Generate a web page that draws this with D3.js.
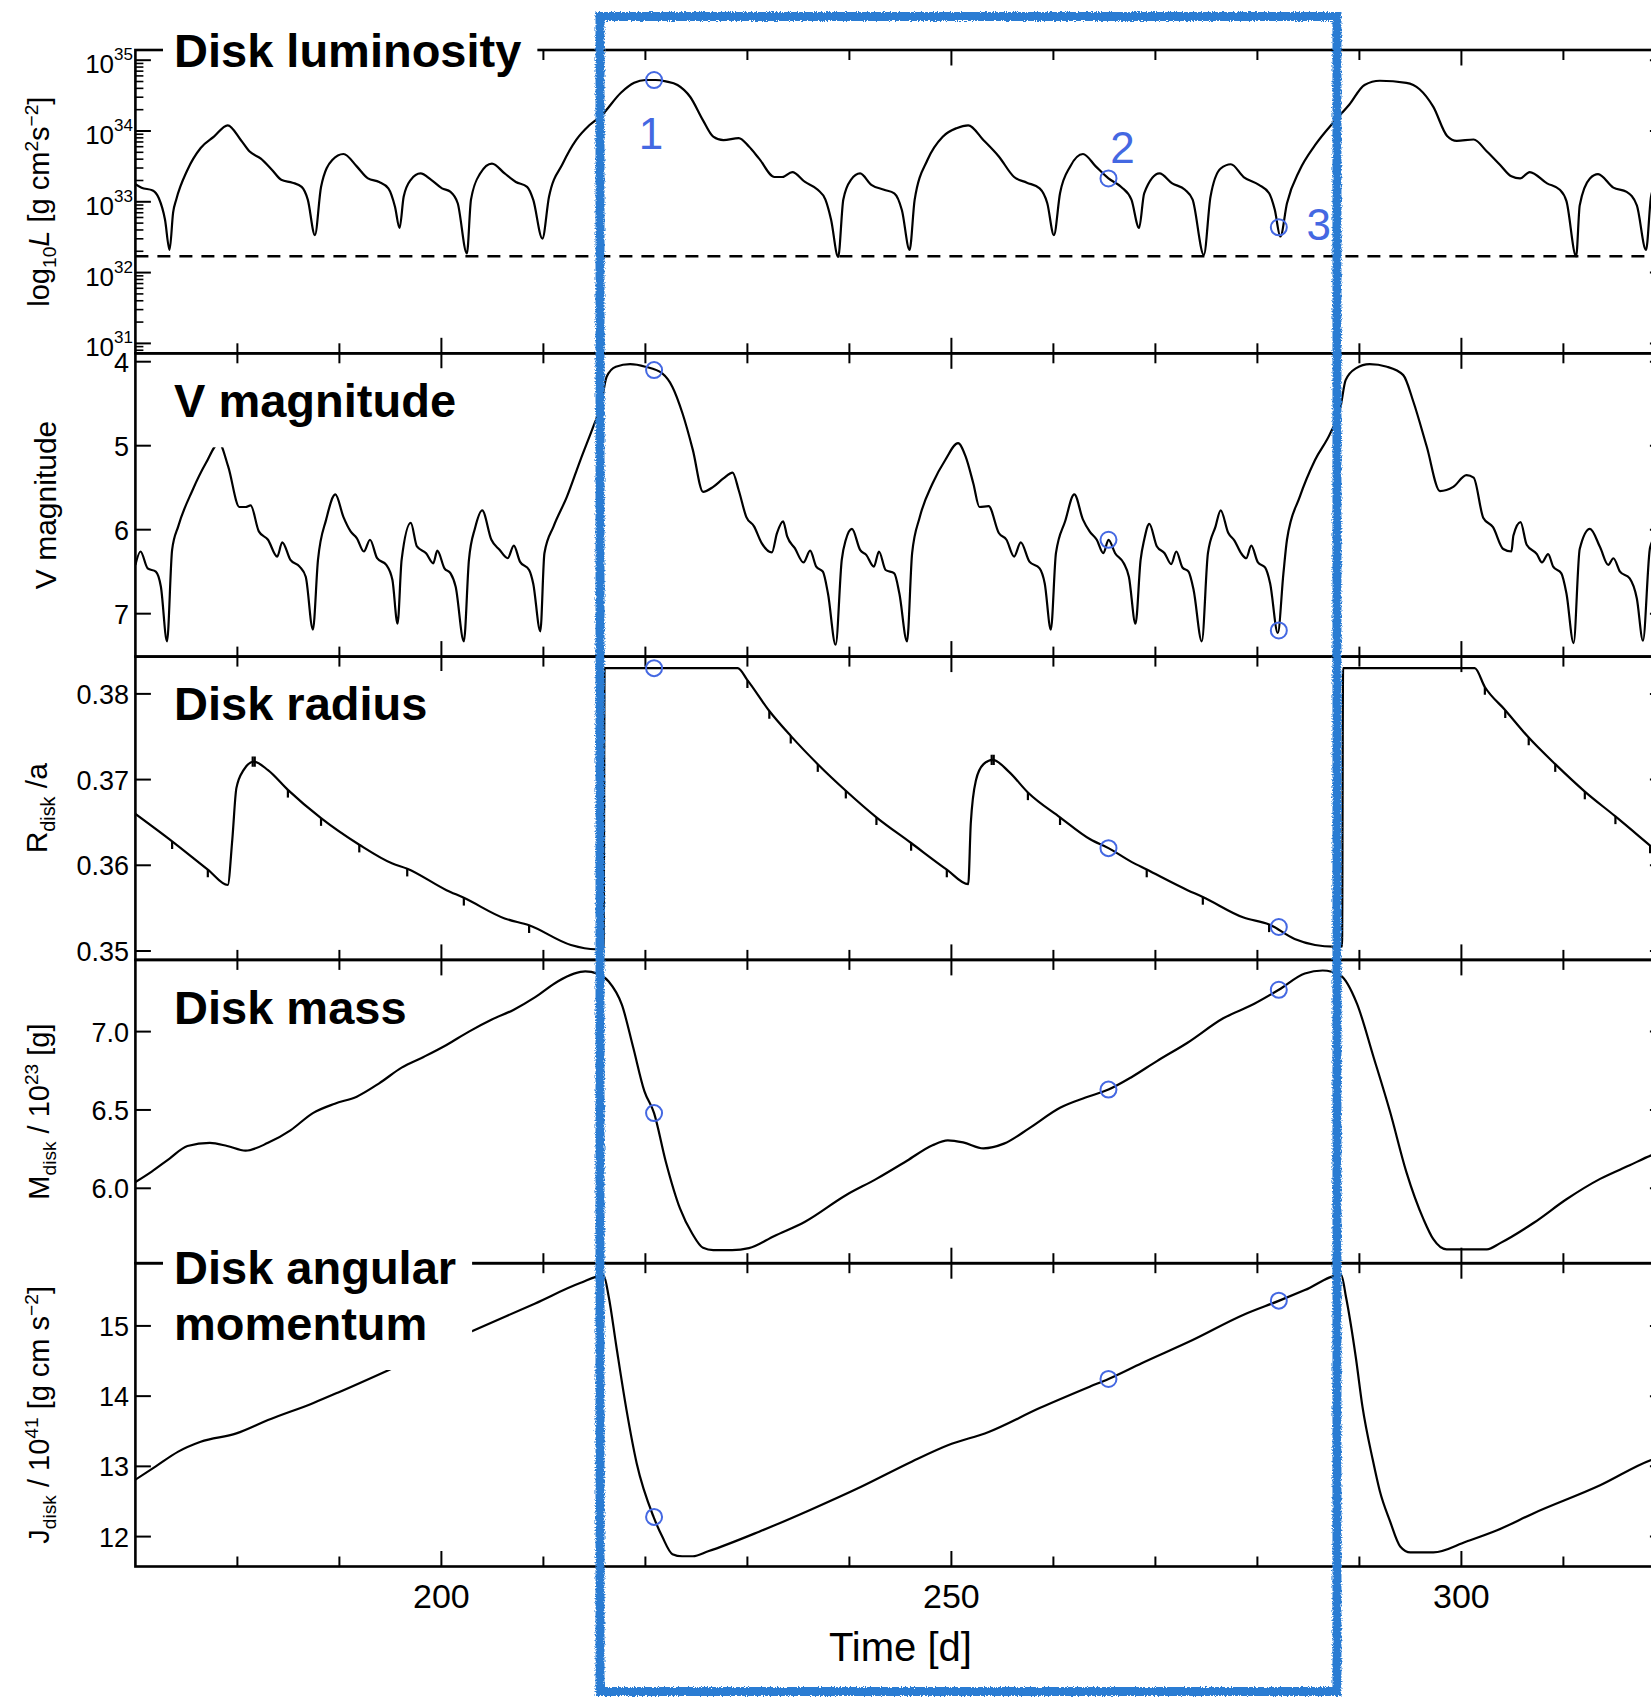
<!DOCTYPE html>
<html>
<head>
<meta charset="utf-8">
<script src="https://cdn.jsdelivr.net/npm/d3@7"></script>
<style>
  html, body { margin: 0; padding: 0; background: #fff; overflow: hidden; }
  svg { display: block; }
  text { font-family: "Liberation Sans", Arial, Helvetica, sans-serif; }
</style>
</head>
<body>
<svg id="chart" width="1651" height="1699"></svg>
<script>
// ---------------- data: [time (d), value] ----------------
// disk luminosity, log10 L [g cm^2 s^-2]
const luminosity = [
  [170.0,33.25],[170.6,33.20],[171.7,33.16],[172.3,33.05],[172.9,32.75],[173.35,32.32],[173.7,32.85],[174.0,33.03],
  [175.1,33.45],[176.4,33.76],[177.7,33.92],[179.05,34.08],[180.35,33.87],[181.2,33.71],[182.3,33.61],[183.4,33.45],
  [184.3,33.31],[185.4,33.27],[186.3,33.21],[186.9,33.03],[187.6,32.53],[188.2,33.21],[189.3,33.59],[190.4,33.675],
  [191.7,33.50],[192.8,33.33],[193.9,33.28],[194.8,33.19],[195.45,32.93],[195.9,32.63],[196.3,33.07],[197.0,33.31],
  [197.95,33.40],[199.0,33.31],[200.06,33.19],[200.9,33.14],[201.6,32.98],[202.5,32.27],[202.9,33.03],[203.8,33.40],
  [204.96,33.54],[206.2,33.40],[207.3,33.28],[208.4,33.21],[209.0,33.03],[209.9,32.48],[210.55,33.07],[211.9,33.54],
  [213.2,33.87],[214.5,34.08],[215.7,34.22],[217.6,34.54],[218.9,34.68],[220.0,34.72],[221.0,34.72],[222.0,34.70],
  [223.15,34.65],[224.4,34.48],[225.65,34.15],[226.65,33.92],[227.65,33.87],[229.15,33.90],[230.15,33.78],[231.15,33.61],
  [232.65,33.35],[233.4,33.35],[234.4,33.42],[235.65,33.28],[236.9,33.17],[237.65,33.03],[238.2,32.75],[238.9,32.22],
  [239.4,33.03],[240.15,33.31],[241.05,33.40],[242.15,33.24],[243.4,33.17],[244.4,33.12],[245.15,32.88],[245.9,32.32],
  [246.4,33.03],[247.65,33.59],[249.15,33.92],[250.5,34.04],[251.65,34.08],[253.15,33.87],[254.65,33.64],[256.15,33.35],
  [257.4,33.27],[258.65,33.19],[259.4,32.98],[260.05,32.53],[260.65,33.12],[261.65,33.50],[262.9,33.675],[264.15,33.50],
  [265.4,33.33],[266.65,33.21],[267.65,33.03],[268.4,32.63],[268.9,33.12],[270.4,33.40],[271.65,33.26],[272.9,33.17],
  [273.65,33.03],[274.75,32.25],[275.4,33.07],[276.4,33.47],[277.4,33.53],[278.65,33.35],[280.15,33.24],[281.15,33.12],
  [281.7,32.89],[282.25,32.51],[282.9,32.98],[284.15,33.45],[285.65,33.80],[287.5,34.13],[289.0,34.37],[290.5,34.65],
  [292.0,34.71],[294.6,34.68],[295.9,34.59],[297.25,34.34],[298.6,33.93],[299.55,33.86],[301.2,33.88],[302.5,33.71],
  [303.8,33.52],[304.9,33.36],[305.75,33.33],[306.7,33.42],[308.4,33.26],[309.65,33.17],[310.3,33.01],[311.25,32.23],
  [311.6,32.95],[312.6,33.33],[313.4,33.39],[314.9,33.20],[316.2,33.14],[317.2,32.95],[318.1,32.32],[318.6,33.08],[319.2,33.30]
];
// quiescent luminosity level (log10 L)
const lumFloor = 32.23;

// V magnitude
const vMag = [
  [170.0,6.42],[170.5,6.26],[171.2,6.46],[172.0,6.50],[172.5,6.68],[173.1,7.33],[173.6,6.24],[174.2,5.96],[175.6,5.53],
  [176.9,5.21],[178.2,4.97],[179.1,5.25],[180.2,5.73],[180.8,5.73],[181.3,5.71],[182.1,6.02],[183.0,6.12],[183.9,6.32],
  [184.4,6.15],[185.2,6.36],[186.1,6.44],[186.7,6.56],[187.4,7.19],[187.9,6.36],[188.7,5.88],[189.6,5.58],[190.4,5.85],
  [191.1,6.02],[191.7,6.10],[192.4,6.26],[193.0,6.12],[193.7,6.34],[194.6,6.42],[195.2,6.60],[195.7,7.12],[196.1,6.36],
  [197.0,5.92],[197.6,6.20],[198.5,6.28],[199.2,6.40],[199.6,6.25],[200.3,6.46],[200.9,6.52],[201.4,6.68],[202.2,7.33],
  [202.7,6.36],[203.3,5.98],[204.0,5.77],[204.9,6.12],[205.7,6.24],[206.5,6.34],[207.1,6.19],[207.7,6.38],[208.6,6.48],
  [209.0,6.64],[209.7,7.21],[210.1,6.28],[211.0,5.96],[212.3,5.61],[213.6,5.18],[214.9,4.77],[215.6,4.54],[216.2,4.18],
  [217.1,4.06],[218.5,4.03],[220.0,4.06],[221.65,4.14],[222.65,4.30],[223.65,4.62],[224.65,5.05],[225.65,5.55],
  [226.65,5.49],[227.65,5.39],[228.55,5.32],[229.15,5.53],[229.9,5.85],[230.65,5.96],[231.4,6.16],[232.4,6.27],
  [232.9,6.04],[233.5,5.90],[233.9,6.08],[234.65,6.22],[235.5,6.39],[236.15,6.25],[236.75,6.44],[237.4,6.50],
  [237.9,6.76],[238.65,7.37],[239.25,6.36],[239.65,6.12],[240.25,5.99],[241.05,6.24],[241.65,6.30],[242.4,6.44],
  [242.9,6.26],[243.55,6.48],[244.4,6.52],[244.9,6.76],[245.65,7.33],[246.15,6.28],[246.9,5.85],[248.15,5.45],
  [249.4,5.17],[250.65,4.97],[251.4,5.13],[252.15,5.45],[252.75,5.73],[253.65,5.72],[254.65,6.04],[255.4,6.12],
  [256.15,6.32],[256.8,6.15],[257.65,6.38],[258.65,6.46],[259.15,6.64],[259.75,7.19],[260.25,6.28],[261.15,5.90],
  [262.05,5.58],[262.9,5.88],[263.55,6.02],[264.25,6.12],[264.9,6.28],[265.4,6.12],[266.05,6.28],[266.9,6.40],
  [267.4,6.56],[268.05,7.12],[268.55,6.36],[268.9,6.12],[269.4,5.93],[270.15,6.20],[270.9,6.28],[271.55,6.41],
  [272.05,6.26],[272.65,6.45],[273.25,6.50],[273.75,6.72],[274.55,7.33],[275.15,6.28],[275.9,5.96],[276.4,5.77],
  [277.15,6.04],[277.75,6.13],[278.4,6.28],[278.9,6.34],[279.4,6.19],[280.05,6.39],[280.75,6.45],[281.25,6.64],
  [282.0,7.23],[282.55,6.52],[282.9,6.12],[284.15,5.61],[285.65,5.17],[287.15,4.85],[288.15,4.54],[288.65,4.22],
  [289.65,4.08],[291.0,4.03],[292.7,4.06],[294.3,4.16],[295.3,4.48],[296.6,5.01],[297.9,5.54],[299.2,5.49],
  [300.5,5.35],[301.2,5.38],[302.15,5.86],[303.1,5.97],[304.1,6.23],[304.9,6.26],[305.1,6.07],[305.8,5.91],
  [306.4,6.18],[307.4,6.29],[307.9,6.39],[308.5,6.29],[309.0,6.44],[309.8,6.52],[310.3,6.76],[311.0,7.35],
  [311.6,6.23],[312.6,5.99],[313.6,6.21],[314.4,6.42],[314.9,6.34],[315.55,6.50],[316.5,6.58],[317.2,6.82],
  [317.8,7.32],[318.5,6.21],[319.2,6.05]
];

// disk radius R_disk / a
const diskRadius = [
  [170.0,0.3660],[173.6,0.3628],[177.1,0.3595],[179.05,0.3577],[179.5,0.3630],[179.9,0.3690],[180.6,0.3711],
  [181.6,0.3721],[183.0,0.3711],[184.95,0.3688],[188.2,0.3655],[191.95,0.3624],[195.2,0.3602],[196.65,0.3596],
  [200.5,0.3571],[202.2,0.3562],[206.2,0.3538],[208.6,0.3530],[212.7,0.3507],[215.1,0.3502],[215.9,0.3502],
  [216.0,0.3830],[229.05,0.3830],[230.0,0.3816],[232.15,0.3780],[234.25,0.3751],[236.9,0.3718],[239.65,0.3687],
  [242.65,0.3656],[246.05,0.3626],[249.55,0.3595],[251.65,0.3578],[251.9,0.3649],[252.4,0.3699],[253.15,0.3718],
  [254.05,0.3723],[255.65,0.3709],[257.5,0.3685],[260.65,0.3656],[263.65,0.3630],[265.4,0.3620],[267.65,0.3604],
  [269.15,0.3595],[273.15,0.3571],[274.65,0.3563],[278.65,0.3539],[281.15,0.3531],[283.65,0.3514],[285.65,0.3507],
  [287.5,0.3505],[288.3,0.3505],[288.4,0.3830],[301.3,0.3830],[302.3,0.3808],[304.3,0.3781],[306.6,0.3749],
  [309.2,0.3718],[312.1,0.3686],[315.1,0.3657],[318.5,0.3623],[319.2,0.3616]
];
// short glitches in the radius output: [time, from, to]
const radiusGlitches = [
  [173.6,0.3628,0.3619],[177.1,0.3595,0.3586],[181.5,0.3715,0.3727],[181.7,0.3715,0.3727],[184.95,0.3688,0.3679],
  [188.2,0.3655,0.3646],[191.95,0.3624,0.3615],[196.65,0.3596,0.3587],[202.2,0.3562,0.3553],[208.6,0.3530,0.3521],
  [230.0,0.3816,0.3807],[232.15,0.3780,0.3771],[234.25,0.3751,0.3742],[236.9,0.3718,0.3709],[239.65,0.3687,0.3678],
  [242.65,0.3656,0.3647],[246.05,0.3626,0.3617],[249.55,0.3595,0.3586],[253.95,0.3717,0.3729],[254.15,0.3717,0.3729],
  [257.5,0.3685,0.3676],[260.65,0.3656,0.3647],[269.15,0.3595,0.3586],[274.65,0.3563,0.3554],[281.15,0.3531,0.3522],
  [302.3,0.3808,0.3799],[304.3,0.3781,0.3772],[306.6,0.3749,0.3740],[309.2,0.3718,0.3709],[312.1,0.3686,0.3677],
  [315.1,0.3657,0.3648],[318.5,0.3623,0.3614]
];

// disk mass / 1e23 g
const diskMass = [
  [170.0,6.04],[171.6,6.107],[173.35,6.19],[175.1,6.27],[177.3,6.29],[179.0,6.27],[180.8,6.24],[183.0,6.29],
  [185.2,6.37],[187.4,6.48],[189.55,6.54],[191.7,6.585],[193.9,6.67],[196.1,6.77],[198.3,6.84],[200.5,6.915],
  [202.7,7.0],[204.9,7.075],[207.1,7.14],[209.2,7.22],[211.4,7.32],[213.0,7.37],[214.1,7.385],[215.3,7.37],
  [216.4,7.32],[217.7,7.17],[218.8,6.90],[219.9,6.62],[220.85,6.48],[222.0,6.17],[223.4,5.87],[224.6,5.71],
  [225.65,5.62],[226.65,5.605],[228.5,5.605],[230.15,5.618],[232.65,5.696],[235.65,5.787],[239.65,5.956],
  [242.65,6.06],[245.65,6.176],[248.15,6.275],[249.65,6.306],[251.15,6.293],[253.15,6.255],[255.15,6.285],
  [257.65,6.384],[260.65,6.514],[263.15,6.579],[265.4,6.63],[267.65,6.709],[270.15,6.812],[273.15,6.929],
  [276.65,7.085],[279.65,7.176],[282.1,7.267],[284.65,7.371],[286.4,7.39],[288.15,7.358],[289.75,7.18],
  [291.4,6.835],[293.0,6.49],[294.6,6.105],[296.3,5.80],[297.25,5.675],[298.55,5.61],[300.5,5.61],[302.5,5.61],
  [303.8,5.65],[307.1,5.78],[310.3,5.93],[313.6,6.06],[316.5,6.147],[318.6,6.21],[319.2,6.225]
];

// disk angular momentum / 1e41
const diskAngMom = [
  [170.0,12.81],[172.0,13.0],[174.2,13.21],[176.4,13.35],[179.9,13.47],[183.0,13.66],[187.4,13.90],[190.0,14.06],
  [194.8,14.37],[203.1,14.93],[209.2,15.32],[213.6,15.61],[215.9,15.72],[216.4,15.42],[217.15,14.71],[218.15,13.80],
  [219.15,13.04],[220.8,12.28],[221.65,12.0],[222.65,11.75],[223.6,11.72],[224.65,11.72],[226.15,11.79],[231.15,12.07],
  [236.15,12.38],[241.15,12.71],[246.15,13.07],[249.65,13.30],[253.65,13.49],[258.65,13.83],[263.65,14.14],
  [265.4,14.245],[268.65,14.47],[273.65,14.80],[278.65,15.16],[282.15,15.36],[284.65,15.51],[288.2,15.73],
  [288.7,15.40],[289.65,14.55],[290.3,13.85],[291.3,13.10],[292.0,12.65],[293.0,12.22],[294.0,11.86],[295.0,11.775],
  [297.25,11.775],[300.5,11.93],[303.5,12.09],[307.05,12.33],[313.6,12.73],[318.6,13.09],[319.2,13.12]
];

// highlighted epochs 1, 2, 3
const markerNames = ["1", "2", "3"];
const markerTimes = [220.85, 265.4, 282.1];
const markerLum   = [34.72, 33.33, 32.64];
const markerV     = [4.10, 6.12, 7.20];
const markerR     = [0.3830, 0.3620, 0.3528];
const markerM     = [6.48, 6.63, 7.267];
const markerJ     = [12.28, 14.245, 15.36];
// outburst cycle enclosed by the frame [start, end] in days
const cycleSpan = [215.55, 287.8];

// axis ticks
const timeTicks  = [180, 190, 200, 210, 220, 230, 240, 250, 260, 270, 280, 290, 300, 310];
const timeLabels = [200, 250, 300];
const lumTicks   = [31, 32, 33, 34, 35];
const vTicks     = [4, 5, 6, 7];
const rTicks     = [0.35, 0.36, 0.37, 0.38];
const mTicks     = [6.0, 6.5, 7.0];
const jTicks     = [12, 13, 14, 15];

// ---------------- layout ----------------
const plotLeft = 135.4, plotRight = 1665.4, plotTop = 50, panelH = 303.3;
const majorLen = 15.5, minorLen = 10, logMinorLen = 8;
const ink = "#000";
const markColor = "#4468e2";
const frameColor = "#2b7cd3";

const svg = d3.select("#chart");
const defs = svg.append("defs");

// ragged edge for the hand-drawn highlight frame
const rough = defs.append("filter").attr("id", "rough")
  .attr("x", "-3%").attr("y", "-3%").attr("width", "106%").attr("height", "106%");
rough.append("feTurbulence").attr("type", "fractalNoise").attr("baseFrequency", 0.7)
  .attr("numOctaves", 2).attr("seed", 5).attr("result", "noise");
rough.append("feDisplacementMap").attr("in", "SourceGraphic").attr("in2", "noise")
  .attr("scale", 4.5).attr("xChannelSelector", "R").attr("yChannelSelector", "G");

const x = d3.scaleLinear().domain([170, 320]).range([plotLeft, plotRight]);

const panels = [
  { data: luminosity, y: d3.scaleLog().domain([Math.pow(10, 30.86), Math.pow(10, 35.144)]),
    val: v => Math.pow(10, v), ticks: lumTicks.map(e => Math.pow(10, e)), log: true,
    markers: markerLum, title: ["Disk luminosity"], titleBase: 66.7 },
  { data: vMag, y: d3.scaleLinear().domain([3.9, 7.511]), invert: true,
    val: v => v, ticks: vTicks, fmt: d => String(d),
    markers: markerV, title: ["V magnitude"], titleBase: 417.3 },
  { data: diskRadius, y: d3.scaleLinear().domain([0.34896, 0.38435]),
    val: v => v, ticks: rTicks, fmt: d3.format(".2f"), glitches: radiusGlitches,
    markers: markerR, title: ["Disk radius"], titleBase: 720 },
  { data: diskMass, y: d3.scaleLinear().domain([5.522, 7.4576]),
    val: v => v, ticks: mTicks, fmt: d3.format(".1f"),
    markers: markerM, title: ["Disk mass"], titleBase: 1024 },
  { data: diskAngMom, y: d3.scaleLinear().domain([11.574, 15.893]),
    val: v => v, ticks: jTicks, fmt: d => String(d),
    markers: markerJ, title: ["Disk angular", "momentum"], titleBase: 1283.5 }
];

const axisLayer = svg.append("g");
const curveLayer = svg.append("g");
const titleLayer = svg.append("g");
const markLayer = svg.append("g");

panels.forEach((p, i) => {
  const top = plotTop + i * panelH, bottom = top + panelH;
  p.top = top; p.bottom = bottom;
  p.y.range(p.invert ? [top, bottom] : [bottom, top]);

  defs.append("clipPath").attr("id", "clip" + i).append("rect")
    .attr("x", plotLeft).attr("y", top).attr("width", plotRight - plotLeft).attr("height", panelH);

  const g = axisLayer.append("g");
  g.append("rect").attr("x", plotLeft).attr("y", top)
    .attr("width", plotRight - plotLeft).attr("height", panelH)
    .attr("fill", "none").attr("stroke", ink).attr("stroke-width", 2.6);

  // time ticks, inward on top and bottom edges
  timeTicks.forEach(t => {
    const len = t % 50 === 0 ? majorLen : minorLen;
    g.append("line").attr("x1", x(t)).attr("x2", x(t)).attr("y1", top).attr("y2", top + len)
      .attr("stroke", ink).attr("stroke-width", 2);
    g.append("line").attr("x1", x(t)).attr("x2", x(t)).attr("y1", bottom - len).attr("y2", bottom)
      .attr("stroke", ink).attr("stroke-width", 2);
  });

  // value ticks, inward on left and right edges
  p.ticks.forEach(v => {
    const yy = p.y(v);
    g.append("line").attr("x1", plotLeft).attr("x2", plotLeft + majorLen).attr("y1", yy).attr("y2", yy)
      .attr("stroke", ink).attr("stroke-width", 2);
    g.append("line").attr("x1", plotRight - majorLen).attr("x2", plotRight).attr("y1", yy).attr("y2", yy)
      .attr("stroke", ink).attr("stroke-width", 2);
  });

  if (p.log) {
    const [lo, hi] = p.y.domain();
    for (let e = 30; e <= 35; e++) {
      for (let k = 2; k <= 9; k++) {
        const v = k * Math.pow(10, e);
        if (v < lo || v > hi) continue;
        const yy = p.y(v);
        g.append("line").attr("x1", plotLeft).attr("x2", plotLeft + logMinorLen).attr("y1", yy).attr("y2", yy)
          .attr("stroke", ink).attr("stroke-width", 1.6);
        g.append("line").attr("x1", plotRight - logMinorLen).attr("x2", plotRight).attr("y1", yy).attr("y2", yy)
          .attr("stroke", ink).attr("stroke-width", 1.6);
      }
    }
    // tick labels 10^n
    lumTicks.forEach(e => {
      const yy = p.y(Math.pow(10, e));
      const t = g.append("text").attr("x", 133).attr("y", yy + 13)
        .attr("text-anchor", "end").attr("font-size", 26).attr("fill", ink);
      t.append("tspan").text("10");
      t.append("tspan").attr("font-size", 17).attr("dy", -13).text(String(e));
    });
  } else {
    p.ticks.forEach(v => {
      g.append("text").attr("x", 129).attr("y", p.y(v) + 10)
        .attr("text-anchor", "end").attr("font-size", 27).attr("fill", ink).text(p.fmt(v));
    });
  }

  // curve
  curveLayer.append("path").datum(p.data)
    .attr("clip-path", `url(#clip${i})`)
    .attr("fill", "none").attr("stroke", ink).attr("stroke-width", 2.2)
    .attr("stroke-linejoin", "round")
    .attr("d", d3.line().x(d => x(d[0])).y(d => p.y(p.val(d[1]))).curve(d3.curveMonotoneX));

  if (p.glitches) {
    curveLayer.append("g").attr("clip-path", `url(#clip${i})`)
      .selectAll("line").data(p.glitches).join("line")
      .attr("x1", d => x(d[0])).attr("x2", d => x(d[0]))
      .attr("y1", d => p.y(d[1])).attr("y2", d => p.y(d[2]))
      .attr("stroke", ink).attr("stroke-width", 2.2);
  }
});

// quiescent level in the luminosity panel
curveLayer.append("line")
  .attr("x1", plotLeft).attr("x2", plotRight)
  .attr("y1", panels[0].y(Math.pow(10, lumFloor))).attr("y2", panels[0].y(Math.pow(10, lumFloor)))
  .attr("stroke", ink).attr("stroke-width", 2.6).attr("stroke-dasharray", "13,9")
  .attr("clip-path", "url(#clip0)");

// panel titles on white boxes
panels.forEach(p => {
  const t = titleLayer.append("text").attr("font-size", 47).attr("font-weight", "bold").attr("fill", ink);
  p.title.forEach((line, k) => {
    t.append("tspan").attr("x", 174).attr("y", p.titleBase + k * 56.5).text(line);
  });
  const bb = t.node().getBBox();
  titleLayer.insert("rect", () => t.node())
    .attr("x", bb.x - 11).attr("y", bb.y - 6)
    .attr("width", bb.width + 27).attr("height", bb.height + 26)
    .attr("fill", "#fff");
});

// x-axis labels under the last panel
const lastBottom = panels[panels.length - 1].bottom;
timeLabels.forEach(t => {
  axisLayer.append("text").attr("x", x(t)).attr("y", lastBottom + 41.5)
    .attr("text-anchor", "middle").attr("font-size", 34).attr("fill", ink).text(String(t));
});
axisLayer.append("text").attr("x", (plotLeft + plotRight) / 2).attr("y", lastBottom + 94.5)
  .attr("text-anchor", "middle").attr("font-size", 40).attr("fill", ink).text("Time [d]");

// y-axis titles (rotated), built from pieces with sub/superscripts
function yTitle(cx, cy, parts, size) {
  const t = axisLayer.append("text").attr("transform", `translate(${cx},${cy}) rotate(-90)`)
    .attr("text-anchor", "middle").attr("font-size", size).attr("fill", ink);
  let shift = 0;
  parts.forEach(pt => {
    const target = pt.sub ? 0.25 * size : pt.sup ? -0.38 * size : 0;
    const s = t.append("tspan").attr("dy", target - shift).text(pt.s);
    if (pt.sub || pt.sup) s.attr("font-size", size * 0.66);
    if (pt.it) s.attr("font-style", "italic");
    shift = target;
  });
  return t;
}
yTitle(49, panels[0].top + panelH / 2, [
  { s: "log" }, { s: "10", sub: true }, { s: "L", it: true }, { s: "  [g cm" }, { s: "2", sup: true },
  { s: "s" }, { s: "\u22122", sup: true }, { s: "]" }], 29);
yTitle(55.5, panels[1].top + panelH / 2, [{ s: "V magnitude" }], 30);
yTitle(47, panels[2].top + panelH / 2, [{ s: "R" }, { s: "disk", sub: true }, { s: " /a" }], 30);
yTitle(49, panels[3].top + panelH / 2, [
  { s: "M" }, { s: "disk", sub: true }, { s: " / 10" }, { s: "23", sup: true }, { s: " [g]" }], 29);
yTitle(49, panels[4].top + panelH / 2, [
  { s: "J" }, { s: "disk", sub: true }, { s: " / 10" }, { s: "41", sup: true }, { s: " [g cm s" },
  { s: "\u22122", sup: true }, { s: "]" }], 29);

// highlighted epochs
panels.forEach(p => {
  markerTimes.forEach((t, k) => {
    markLayer.append("circle").attr("cx", x(t)).attr("cy", p.y(p.val(p.markers[k])))
      .attr("r", 8).attr("fill", "none").attr("stroke", markColor).attr("stroke-width", 2);
  });
});
const labelOffsets = [[-3, 69], [14, -15], [40, 13]];
markerTimes.forEach((t, k) => {
  const p = panels[0];
  markLayer.append("text")
    .attr("x", x(t) + labelOffsets[k][0]).attr("y", p.y(p.val(p.markers[k])) + labelOffsets[k][1])
    .attr("text-anchor", "middle").attr("font-size", 44).attr("fill", markColor).text(markerNames[k]);
});

// hand-drawn frame around one outburst cycle
svg.append("rect")
  .attr("x", x(cycleSpan[0])).attr("y", 16.5)
  .attr("width", x(cycleSpan[1]) - x(cycleSpan[0])).attr("height", 1675)
  .attr("fill", "none").attr("stroke", frameColor).attr("stroke-width", 9)
  .attr("filter", "url(#rough)");
</script>
</body>
</html>
